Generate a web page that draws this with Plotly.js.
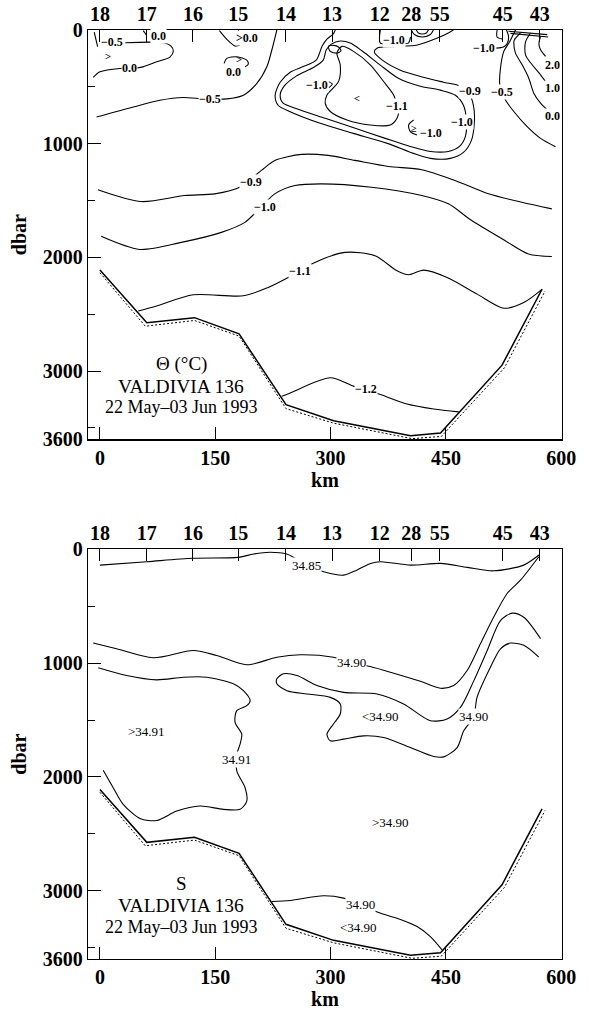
<!DOCTYPE html>
<html>
<head>
<meta charset="utf-8">
<script src="https://cdn.plot.ly/plotly-3.0.1.min.js"></script>
<style>
  html, body { margin: 0; padding: 0; background: #fff; }
  #chart { width: 589px; height: 1010px; }
</style>
</head>
<body>
<div id="chart"></div>
<script>
// ---- Section geometry -------------------------------------------------
const stationKm = [0, 61, 121, 180, 242, 302, 364, 405, 442, 524, 572];
const stationNames = ['18', '17', '16', '15', '14', '13', '12', '28', '55', '45', '43'];
const kmTicks = [0, 150, 300, 450, 600];
const pTicks = [0, 1000, 2000, 3000, 3600];
const pMinor = [500, 1500, 2500, 3500];

// Sea floor (solid) and deepest sample (dashed)
const bottomKm = [0, 61, 123, 181, 242, 304, 404, 443, 523, 575];
const bottomP = [2110, 2575, 2530, 2672, 3295, 3436, 3568, 3545, 2948, 2280];
const deepKm = [0, 59, 123, 181, 242, 304, 406, 444, 526, 579];
const deepP = [2135, 2605, 2555, 2692, 3330, 3458, 3594, 3575, 2972, 2295];

// ---- Potential temperature isolines (km, dbar) ------------------------
const thM12Km = [236.6, 247.5, 299.6, 329.9, 364.7, 399.4, 434.1, 466.7];
const thM12P = [3221, 3192, 3059, 3132, 3206, 3289, 3333, 3359];
const thM11Km = [49.9, 73.8, 121.5, 186.6, 218.8, 244.9, 279.6, 318.7, 357.8, 386.4, 401.5, 421.1, 451.6, 490.6, 525.3, 551.3, 575.3];
const thM11P = [2471, 2427, 2329, 2338, 2265, 2177, 2044, 1956, 1985, 2118, 2153, 2112, 2177, 2323, 2447, 2397, 2279];
const thM10Km = [1.7, 51.7, 105.9, 158, 188.5, 227.5, 253.6, 288.2, 353.4, 418.5, 453.2, 483.6, 527.1, 557.4, 587.8];
const thM10P = [1815, 1930, 1868, 1780, 1692, 1441, 1368, 1353, 1383, 1456, 1529, 1676, 1853, 1970, 1992];
const thM09Km = [-2.6, 53.8, 110.3, 149.4, 182, 210, 227.5, 262.2, 296.9, 331.7, 375.1, 418.5, 461.9, 505.3, 548.7, 587.8];
const thM09P = [1405, 1509, 1456, 1441, 1383, 1235, 1147, 1094, 1103, 1147, 1200, 1229, 1324, 1441, 1515, 1573];
const thM05Km = [-4.3, 43.4, 78.1, 108.5, 128, 165, 186.6, 204.1, 217.1, 223.6, 230.1];
const thM05P = [765, 677, 618, 594, 603, 606, 574, 470, 324, 176, 0];

// near-surface features, western part
const thNwKm = [33, 82, 92.5, 95.5, 91, 74, 56, 39, 26, 0, -8.7];
const thNwP = [112, 112, 141, 185, 238, 280, 324, 338, 338, 368, 417];
const thCornerKm = [-7.4, -3];
const thCornerP = [18, 147];
const thHook17Km = [56.4, 58.6, 60.8];
const thHook17P = [6, 26, 47];
const thDip15Km = [155.4, 165, 175.8, 182.3];
const thDip15P = [6, 82, 141, 132];
const thArc15Km = [161.5, 165, 178, 191, 193, 188.8];
const thArc15P = [294, 250, 235, 265, 300, 324];

// cold tongue below stations 13-55
const thTongue09Km = [306.1, 303.5, 295.6, 289.1, 281.3, 264.4, 247.5, 234.4, 227.9, 231.8, 247.5, 286.5, 329.5, 373.8, 407.7, 429.8, 455.8, 472.8, 483.2, 487.1, 485.8, 480.6, 468.9, 446.7, 420.7, 390.7, 367.3, 356.9, 360.8, 381.6, 412.9, 438.9, 453.2, 459.7];
const thTongue09P = [0, 35, 79, 141, 265, 322, 371, 459, 574, 662, 719, 821, 909, 997, 1085, 1129, 1129, 1077, 971, 794, 662, 565, 494, 459, 415, 353, 265, 194, 159, 146, 132, 71, 26, 0];
const thTongue10Km = [300.9, 294.3, 290.4, 278.7, 255.3, 239.6, 234.4, 238.3, 254, 293, 332.1, 371.2, 403.7, 429.8, 453.2, 467.6, 475.4, 476.7, 472.8, 462.4, 442.8, 416.8, 388.1, 364.7, 341.2, 325.6, 312.6, 300.9];
const thTongue10P = [124, 176, 265, 326, 406, 494, 574, 644, 688, 777, 865, 953, 1024, 1068, 1068, 1024, 935, 794, 662, 574, 529, 494, 424, 309, 185, 115, 97, 124];
const thCore11Km = [308.3, 312.6, 310.4, 295.3, 293, 299.6, 321.3, 351.6, 377.7, 386.4, 388.5, 386.4, 382, 369, 351.6, 329.9, 314.8, 308.3];
const thCore11P = [203, 306, 453, 571, 644, 717, 792, 836, 836, 777, 717, 664, 571, 453, 306, 188, 144, 203];
const thOvalKm = [297.3, 299.6, 308.3, 313.5, 310.4, 303.8, 297.3];
const thOvalP = [144, 188, 203, 183, 150, 135, 144];
const thCupKm = [408, 401.5, 403.7, 412.4];
const thCupP = [792, 836, 894, 924];
const thHook13Km = [297.6, 302.2, 297.6];
const thHook13P = [454, 476, 507];

// surface features, eastern part
const thBox12Km = [364.7, 364.7, 383, 401, 404];
const thBox12P = [0, 115, 118, 115, 60];
const thBowlAKm = [411.6, 414.2, 419.4, 424.6, 427.2];
const thBowlAP = [0, 26, 35, 26, 0];
const thBowlBKm = [405, 409, 419.4, 429.8, 433.7];
const thBowlBP = [0, 40, 62, 40, 0];
const thM10eKm = [515.7, 524.9, 530.1, 531.4, 528.8];
const thM10eP = [159, 150, 115, 53, 0];
const thBracketKm = [516.6, 516.6, 524];
const thBracketP = [0, 62, 80];
const thM05eKm = [540.5, 536.6, 532.7, 525.3, 521, 520.1, 523.2, 527.5, 538.3, 555.7, 573.1, 592.6];
const thM05eP = [0, 53, 106, 188, 335, 483, 541, 615, 717, 850, 953, 1026];
const th00eKm = [547, 539, 538.3, 540.5, 549.2, 557.8, 564.3, 573.1, 581.8];
const th00eP = [26, 88, 115, 203, 306, 424, 556, 644, 703];
const th10eKm = [560, 553.5, 553.5, 562.2, 573.1, 579.6];
const th10eP = [26, 106, 218, 306, 394, 453];
const th20eKm = [573, 571, 573.1, 579.6];
const th20eP = [53, 124, 174, 232];
const thSurfAKm = [531.4, 581.8];
const thSurfAP = [11, 41];
const thSurfBKm = [534, 583];
const thSurfBP = [30, 62];

// ---- Salinity isolines (km, dbar) --------------------------------------
const s3485Km = [0, 61, 121, 180, 200, 221, 243, 254, 269, 291, 317, 334, 352, 365, 404, 443, 478, 512, 551, 571];
const s3485P = [139, 109, 79, 71, 41, 26, 41, 79, 139, 198, 227, 183, 124, 109, 139, 124, 159, 189, 139, 50];
const s3490aKm = [-8.7, 21.7, 69.4, 121.5, 152, 191, 230.1, 260.5, 303.8, 327.8, 351.6, 377.7, 416.8, 442.8, 460.1, 477.6, 494.9, 512.2, 529.7, 547, 570.8];
const s3490aP = [824, 874, 953, 889, 933, 1015, 948, 927, 948, 992, 1030, 1080, 1160, 1221, 1197, 1065, 830, 595, 388, 271, 65];
const s3491Km = [-2.2, 34.8, 73.8, 108.5, 139, 173.6, 186.6, 195.4, 191, 178, 175.8, 184.5, 182.3, 178, 178, 188.8, 191, 182.3, 160.6, 130.2, 99.9, 73.8, 52.1, 30.3, 17.3, 4.3];
const s3491P = [1041, 1109, 1147, 1124, 1124, 1182, 1242, 1330, 1374, 1418, 1521, 1624, 1712, 1800, 1947, 2095, 2212, 2285, 2285, 2256, 2300, 2383, 2365, 2241, 2095, 1941];
const s3490tKm = [573.1, 551.3, 536.2, 521, 503.6, 486.2, 468.9, 451.5, 429.8, 395, 360.4, 316.9, 282.2, 256.2, 238.7, 230.1, 230.1, 243.2, 269.2, 299.6, 312.6, 312.6, 303.8, 295.3, 299.6, 316.9, 342.9, 369, 403.7, 434.1, 447.1, 464.6, 473.2, 486.2, 490.5, 507.9, 521, 534, 551.3, 570.8];
const s3490tP = [785, 597, 561, 626, 891, 1156, 1389, 1491, 1506, 1359, 1271, 1257, 1197, 1109, 1094, 1138, 1182, 1242, 1271, 1301, 1359, 1447, 1535, 1624, 1683, 1668, 1639, 1653, 1742, 1821, 1824, 1742, 1594, 1471, 1301, 1036, 874, 824, 844, 948];
const s3490dKm = [223.6, 247.5, 290.8, 316.9, 338.6, 362.4, 386.4, 412.5, 429.8, 445];
const s3490dP = [3095, 3086, 3044, 3065, 3124, 3192, 3242, 3315, 3403, 3520];

// ---- Labels -------------------------------------------------------------
const thLabelText = ['−0.5', '0.0', '>', '0.0', '>0.0', '>', '0.0', '−0.5', '−1.0', '<', '−1.1', '≥', '−1.0', '−0.9', '−1.0', '−1.0', '−1.0', '−0.5', '2.0', '1.0', '0.0', '−0.9', '−1.0', '−1.1', '−1.2'];
const thLabelKm = [15.2, 39, 10.8, 75.9, 191, 181, 173.6, 143.3, 282.2, 334.3, 386.4, 408.5, 430.5, 481.9, 471.1, 382, 499.2, 523.2, 588.3, 588.3, 588.3, 197, 214.5, 260, 346.4];
const thLabelP = [103, 338, 235, 50, 71, 262, 372, 603, 483, 600, 664, 865, 909, 536, 809, 88, 159, 541, 306, 506, 753, 1339, 1559, 2118, 3156];
const sLabelText = ['34.85', '34.90', '<34.90', '34.90', '>34.91', '34.91', '>34.90', '34.90', '<34.90'];
const sLabelKm = [269, 327.8, 364.7, 486.2, 60.8, 178, 377.7, 338.6, 336.4];
const sLabelP = [139, 992, 1471, 1471, 1601, 1844, 2397, 3124, 3324];

const panelTitles = [['Θ (°C)', 'VALDIVIA 136', '22 May–03 Jun 1993'], ['S', 'VALDIVIA 136', '22 May–03 Jun 1993']];
const titleKm = 106;
const titleP = [2934, 3133, 3316];
const titleSize = [19, 19.5, 18];

// ---- Drawing --------------------------------------------------------------
const SERIF = 'Liberation Serif, Times New Roman, serif';
const traces = [];

function iso(xs, ys, xa, ya, extra) {
  traces.push(Object.assign({
    type: 'scatter', mode: 'lines', x: xs, y: ys, xaxis: xa, yaxis: ya,
    line: { color: '#000', width: 1.1, shape: 'spline', smoothing: 0.8 },
    hoverinfo: 'skip', showlegend: false
  }, extra || {}));
}

function floor(xa, ya) {
  iso(deepKm, deepP, xa, ya, { line: { color: '#000', width: 1, dash: '2px,2px' } });
  iso(bottomKm, bottomP, xa, ya, { line: { color: '#000', width: 1.5 } });
}

// temperature panel
[
  [thM12Km, thM12P], [thM11Km, thM11P], [thM10Km, thM10P], [thM09Km, thM09P], [thM05Km, thM05P],
  [thNwKm, thNwP], [thCornerKm, thCornerP], [thHook17Km, thHook17P], [thDip15Km, thDip15P], [thArc15Km, thArc15P],
  [thTongue09Km, thTongue09P], [thTongue10Km, thTongue10P], [thCore11Km, thCore11P], [thOvalKm, thOvalP],
  [thCupKm, thCupP], [thHook13Km, thHook13P], [thBox12Km, thBox12P], [thBowlAKm, thBowlAP], [thBowlBKm, thBowlBP],
  [thM10eKm, thM10eP], [thBracketKm, thBracketP], [thM05eKm, thM05eP], [th00eKm, th00eP], [th10eKm, th10eP],
  [th20eKm, th20eP], [thSurfAKm, thSurfAP], [thSurfBKm, thSurfBP]
].forEach(([a, b]) => iso(a, b, 'x', 'y'));
floor('x', 'y');

// salinity panel
[
  [s3485Km, s3485P], [s3490aKm, s3490aP], [s3491Km, s3491P], [s3490tKm, s3490tP], [s3490dKm, s3490dP]
].forEach(([a, b]) => iso(a, b, 'x3', 'y2'));
floor('x3', 'y2');

// station axes need a trace to be drawn
traces.push({ type: 'scatter', mode: 'markers', x: stationKm, y: stationKm.map(() => 0), xaxis: 'x2', yaxis: 'y', marker: { opacity: 0 }, hoverinfo: 'skip', showlegend: false });
traces.push({ type: 'scatter', mode: 'markers', x: stationKm, y: stationKm.map(() => 0), xaxis: 'x4', yaxis: 'y2', marker: { opacity: 0 }, hoverinfo: 'skip', showlegend: false });

const annotations = [];
function label(text, x, y, xa, ya, size, weight, bg) {
  annotations.push({
    text: text, x: x, y: y, xref: xa, yref: ya, showarrow: false,
    font: { family: SERIF, size: size, color: '#000', weight: weight },
    bgcolor: bg ? '#fff' : 'rgba(0,0,0,0)', borderpad: 0
  });
}
thLabelText.forEach((t, i) => label(t, thLabelKm[i], thLabelP[i], 'x', 'y', t.length > 1 ? 12 : 10.5, 'bold', t.length > 1));
sLabelText.forEach((t, i) => label(t, sLabelKm[i], sLabelP[i], 'x3', 'y2', 13, 'normal', true));
panelTitles.forEach((lines, k) => {
  lines.forEach((t, i) => label(t, titleKm, titleP[i], k ? 'x3' : 'x', k ? 'y2' : 'y', titleSize[i], 'normal', false));
});

const tickFont = { family: SERIF, size: 20, color: '#000', weight: 'bold' };
const kmRange = [-15.5, 601];

function kmAxis(anchor) {
  return {
    anchor: anchor, range: kmRange, tickvals: kmTicks, ticktext: kmTicks.map(String),
    ticks: 'inside', ticklen: 12, tickwidth: 1, tickcolor: '#000',
    showline: true, linecolor: '#000', linewidth: 1.3, mirror: false,
    showgrid: false, zeroline: false, tickfont: tickFont,
    title: { text: 'km', font: tickFont, standoff: 2 }
  };
}
function stationAxis(over, anchor) {
  return {
    overlaying: over, anchor: anchor, side: 'top', range: kmRange,
    tickvals: stationKm, ticktext: stationNames,
    ticks: 'inside', ticklen: 12, tickwidth: 1, tickcolor: '#000',
    showline: true, linecolor: '#000', linewidth: 1.3,
    showgrid: false, zeroline: false, tickfont: tickFont
  };
}
function pAxis(anchor, domain) {
  return {
    anchor: anchor, domain: domain, range: [3600, 0], tickvals: pTicks, ticktext: pTicks.map(String),
    ticks: 'inside', ticklen: 13, tickwidth: 1, tickcolor: '#000',
    minor: { tickvals: pMinor, ticks: 'inside', ticklen: 7, tickwidth: 1, tickcolor: '#000' },
    showline: true, linecolor: '#000', linewidth: 1.3, mirror: true,
    showgrid: false, zeroline: false, tickfont: tickFont,
    title: { text: 'dbar', font: tickFont, standoff: 10 }
  };
}

const layout = {
  width: 589, height: 1010,
  margin: { l: 88, r: 27, t: 30, b: 51 },
  paper_bgcolor: '#fff', plot_bgcolor: '#fff',
  showlegend: false,
  xaxis: kmAxis('y'),
  xaxis2: stationAxis('x', 'y'),
  xaxis3: kmAxis('y2'),
  xaxis4: stationAxis('x3', 'y2'),
  yaxis: pAxis('x', [0.5594, 1]),
  yaxis2: pAxis('x3', [0, 0.441]),
  annotations: annotations
};

Plotly.newPlot('chart', traces, layout, { displayModeBar: false, staticPlot: true });
</script>
</body>
</html>
